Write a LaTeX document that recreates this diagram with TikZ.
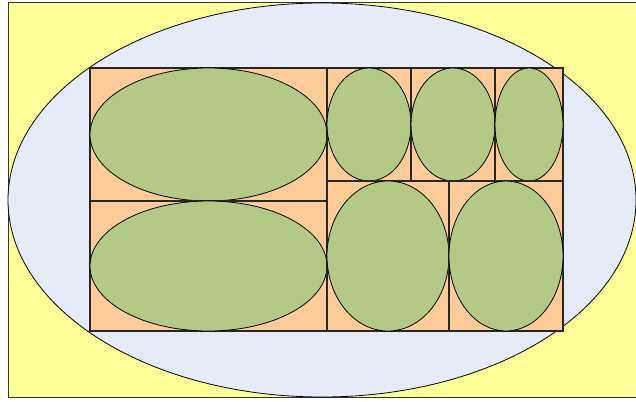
\documentclass[tikz,border=0pt]{standalone}
\usepackage{xcolor}
\usepackage{tikz}
\definecolor{bgyel}{HTML}{FFFF99}
\definecolor{hullc}{HTML}{E5ECF8}
\definecolor{cellc}{HTML}{FFCC99}
\definecolor{leafc}{HTML}{B5C986}
\tikzset{
  outer/.style={draw=black!80,line width=0.8pt,fill=bgyel},
  hull/.style={draw=black,line width=0.8pt,fill=hullc},
  cell/.style={draw=black!85,line width=1.3pt,fill=cellc},
  leaf/.style={draw=black,line width=0.8pt,fill=leafc}
}

\begin{document}
\begin{tikzpicture}[x=1pt,y=-1pt]
\useasboundingbox (0,0) rectangle (636,401);
\draw[outer] (8,2) rectangle (640,397);
\draw[hull] (322,200) ellipse [x radius=314,y radius=197];
% cells: x1/y1/x2/y2
\foreach \xa/\ya/\xb/\yb in {90/68/327/201, 90/201/327/331,
    327/68/411/181, 411/68/495/181, 495/68/563/181,
    327/181/449/331, 449/181/563/331}{
  \draw[cell] (\xa,\ya) rectangle (\xb,\yb);
  \draw[leaf] ({(\xa+\xb)/2},{(\ya+\yb)/2}) ellipse [x radius={(\xb-\xa)/2},y radius={(\yb-\ya)/2}];
}
\end{tikzpicture}
\end{document}
